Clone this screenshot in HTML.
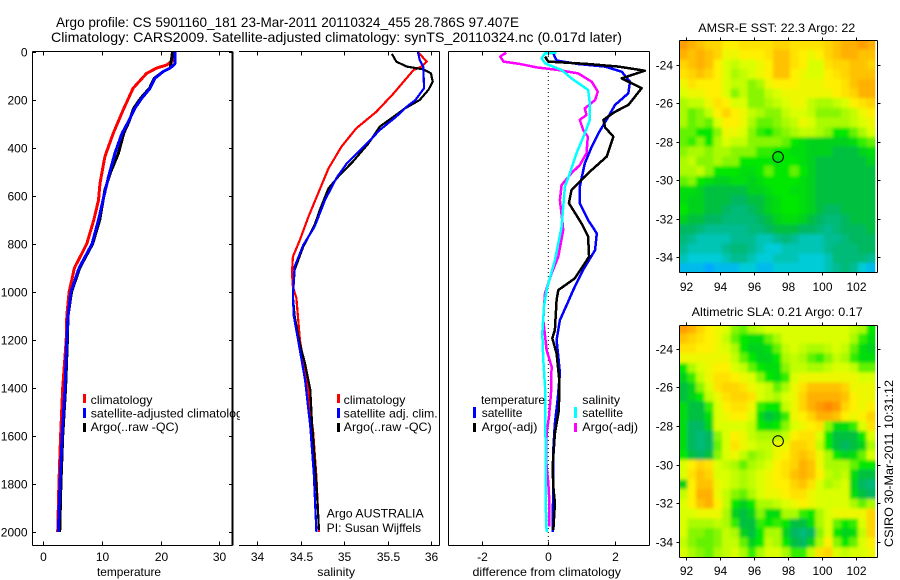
<!DOCTYPE html>
<html>
<head>
<meta charset="utf-8">
<title>Argo profile</title>
<style>
html,body{margin:0;padding:0;background:#fff;}
svg{display:block;}
text{font-family:"Liberation Sans",sans-serif;font-size:12px;fill:#000;}
</style>
</head>
<body>
<svg id="fig" xmlns="http://www.w3.org/2000/svg" width="900" height="580" viewBox="0 0 900 580">
<defs>
<clipPath id="legendClip"><rect x="0" y="380" width="240" height="60"/></clipPath>
<clipPath id="sstClip"><rect x="679.5" y="40.5" width="195.8" height="232"/></clipPath>
<clipPath id="slaClip"><rect x="679.5" y="325.5" width="195.8" height="232"/></clipPath>
<filter id="mapSoft" x="-5%" y="-5%" width="110%" height="110%"><feGaussianBlur stdDeviation="1.7"/></filter>
</defs>
<text x="56" y="27" style="font-size:14px" textLength="463" lengthAdjust="spacingAndGlyphs">Argo profile: CS 5901160_181 23-Mar-2011 20110324_455 28.786S 97.407E</text>
<text x="51" y="42" style="font-size:14px" textLength="571" lengthAdjust="spacingAndGlyphs">Climatology: CARS2009. Satellite-adjusted climatology: synTS_20110324.nc (0.017d later)</text>

<g id="marks"></g>
<g id="frames"></g>

<text x="97" y="576" textLength="64" lengthAdjust="spacingAndGlyphs">temperature</text>
<text x="317.3" y="576" textLength="37.7" lengthAdjust="spacingAndGlyphs">salinity</text>
<text x="472.5" y="576" textLength="148.5" lengthAdjust="spacingAndGlyphs">difference from climatology</text>

<g>
<rect x="83" y="394" width="3" height="9" fill="#f00"/>
<text x="90.7" y="404" textLength="61.7" lengthAdjust="spacingAndGlyphs">climatology</text>
<rect x="83" y="408" width="3" height="10" fill="#00f"/>
<text x="90.7" y="417.5" style="font-size:12.4px" clip-path="url(#legendClip)">satellite-adjusted climatology</text>
<rect x="83" y="423" width="3" height="9" fill="#000"/>
<text x="90.7" y="431" textLength="88" lengthAdjust="spacingAndGlyphs">Argo(..raw -QC)</text>
</g>

<g>
<rect x="337" y="394" width="3" height="9" fill="#f00"/>
<text x="343.7" y="404" textLength="61.7" lengthAdjust="spacingAndGlyphs">climatology</text>
<rect x="337" y="408" width="3" height="10" fill="#00f"/>
<text x="343.7" y="417.5" textLength="94" lengthAdjust="spacingAndGlyphs">satellite adj. clim.</text>
<rect x="337" y="423" width="3" height="9" fill="#000"/>
<text x="343.7" y="431" textLength="88" lengthAdjust="spacingAndGlyphs">Argo(..raw -QC)</text>
</g>
<text x="326.7" y="517.5" textLength="97" lengthAdjust="spacingAndGlyphs">Argo AUSTRALIA</text>
<text x="326.7" y="532" textLength="94.3" lengthAdjust="spacingAndGlyphs">PI: Susan Wijffels</text>

<g>
<text x="481" y="404" textLength="64" lengthAdjust="spacingAndGlyphs">temperature</text>
<rect x="473" y="407" width="3" height="11" fill="#00f"/>
<text x="481.7" y="417" textLength="40.7" lengthAdjust="spacingAndGlyphs">satellite</text>
<rect x="473" y="423" width="3" height="9" fill="#000"/>
<text x="481.7" y="431" textLength="55.7" lengthAdjust="spacingAndGlyphs">Argo(-adj)</text>
<text x="582.3" y="404" textLength="37.7" lengthAdjust="spacingAndGlyphs">salinity</text>
<rect x="574" y="407" width="3" height="11" fill="#0ff"/>
<text x="582.3" y="417" textLength="40.7" lengthAdjust="spacingAndGlyphs">satellite</text>
<rect x="574" y="423" width="3" height="9" fill="#f0f"/>
<text x="582.3" y="431" textLength="55.7" lengthAdjust="spacingAndGlyphs">Argo(-adj)</text>
</g>

<text x="698.3" y="32" textLength="157" lengthAdjust="spacingAndGlyphs">AMSR-E SST: 22.3 Argo: 22</text>
<text x="691.7" y="316" textLength="171" lengthAdjust="spacingAndGlyphs">Altimetric SLA: 0.21 Argo: 0.17</text>
<text x="0" y="0" transform="translate(893,547) rotate(-90)" textLength="167" lengthAdjust="spacingAndGlyphs">CSIRO 30-Mar-2011 10:31:12</text>
</svg>

<script>
// ---------- axis tick labels ----------
const depthTicks = [0,200,400,600,800,1000,1200,1400,1600,1800,2000];
const tempTicks = [0,10,20,30];
const salTicks = [34,34.5,35,35.5,36];
const salTickLabels = ['34','34.5','35','35.5','36'];
const diffTicks = [-2,0,2];
const lonTicks = [92,94,96,98,100,102];
const latTicks = [-24,-26,-28,-30,-32,-34];

// ---------- temperature profiles ----------
const tempClimDepth = [0,33,54,67,89,151,242,339,436,547,617,700,800,900,1000,1100,1200,1400,1600,1800,2000];
const tempClim = [22.3,22.2,21,19.3,17.6,15.3,13.6,11.9,10.5,9.66,9.4,8.6,7.4,5.3,4.4,4.0,3.9,3.3,2.95,2.65,2.45];
const tempSatDepth = [0,50,67,82,110,151,192,234,290,339,422,520,603,700,800,900,1000,1100,1200,1400,1600,1800,2000];
const tempSat = [22.4,22.4,21.6,20.4,19,18.2,16.8,15.6,14.5,13.4,12.2,11.1,10.3,9.4,8.3,6.1,4.7,4.2,4,3.7,3.2,2.85,2.55];
const tempArgoDepth = [0,20,67,82,110,151,192,234,290,339,422,505,575,700,800,900,1000,1100,1200,1400,1600,1800,2000];
const tempArgo = [22,21.9,21.6,20.4,18.9,18.1,16.6,15.4,14.6,13.7,12.8,11.4,10.5,9.6,8.4,6.2,4.8,4.2,4.1,3.8,3.3,3,2.8];

// ---------- salinity profiles ----------
const salClimDepth = [0,40,61,75,117,172,249,318,394,485,589,686,783,853,922,978,1026,1200,1394,1589,1770,2000];
const salClim = [35.85,35.95,35.89,35.8,35.7,35.57,35.37,35.14,34.97,34.82,34.7,34.59,34.49,34.41,34.4,34.41,34.45,34.49,34.58,34.645,34.68,34.71];
const salSatDepth = [0,33,61,151,200,228,269,325,374,464,526,617,728,804,894,1019,1100,1200,1367,1561,1755,2000];
const salSat = [35.85,35.87,35.91,35.92,35.82,35.72,35.6,35.41,35.28,35.03,34.91,34.78,34.66,34.53,34.43,34.41,34.42,34.47,34.55,34.61,34.65,34.68];
const salArgoDepth = [8,40,61,72,89,124,158,200,235,269,311,381,457,512,568,658,721,811,908,1019,1100,1200,1300,1408,1547,1796,1992];
const salArgo = [35.55,35.6,35.72,35.91,36,36.02,35.97,35.87,35.7,35.57,35.41,35.28,35.1,34.95,34.82,34.72,34.66,34.53,34.43,34.41,34.43,34.48,34.55,34.61,34.63,34.68,34.71];

// ---------- difference profiles ----------
const diffTempSatDepth = [6,36,50,61,82,124,172,221,269,339,394,464,561,630,700,756,825,908,992,1040,1117,1200,1269,1339,1450,1547,1658,1796,1999];
const diffTempSat = [.15,.25,.9,1.71,2.21,2.46,2.41,2.01,1.81,1.51,1.31,1.1,.95,.95,1.2,1.46,1.41,1.05,.75,.6,.35,.25,.3,.35,.28,.2,.15,.15,.13];
const diffTempArgoDepth = [19,40,50,61,78,110,151,186,221,249,283,314,353,436,505,575,630,714,769,853,943,992,1033,1158,1193,1256,1367,1492,1589,1728,1811,1881,1992];
const diffTempArgo = [-.1,0,1.2,2.11,2.91,2.21,2.81,2.61,2.41,2.01,1.66,1.71,1.96,1.76,1.2,.7,.62,1,1.2,1.23,.8,.3,.25,.2,.12,.25,.33,.32,.2,.13,.15,.2,.15];
const diffSalArgoDepth = [3,19,40,50,64,75,89,124,165,200,235,262,283,325,353,422,471,505,554,617,700,742,853,922,1006,1061,1117,1242,1311,1421,1519,1589,1700,1796,1867,1978];
const diffSalArgo = [-1.27,-1.45,-1.35,-.85,-.35,.3,.9,1.31,1.49,1.41,1.1,1.15,.95,1.05,1.19,1.15,.95,.7,.4,.35,.42,.45,.3,.1,-.1,-.13,-.15,-.05,.1,.08,.02,-.05,-.07,0,.03,.03];
const diffSalSatDepth = [3,6,26,47,75,110,158,214,283,339,422,505,561,728,867,992,1061,1172,1283,1394,1644,1867,1999];
const diffSalSat = [.25,-.1,-.2,-.1,.4,.7,1.2,1.25,1.25,1.1,.85,.65,.5,.4,.2,-.05,-.13,-.18,-.15,-.1,-.08,-.08,-.05];

// ---------- float position ----------
const floatLon = [97.407];
const floatLat = [-28.786];

// ---------- SST map levels (colour-scale units, north to south) ----------
const sstLevels = [
[11.5,11,10.5,10,10, 9,9,9.5,9.5,9.5, 9.5,10,10,9.5,9.5, 9.5,9.5,10,10.5,11, 11,11.5,11],
[11,10.5,11,10.5,10, 8.5,8.5,9,9,9, 9.5,10.5,10.5,9.5,9, 8.5,9,10,10.5,11, 11,10.5,10.5],
[10,10.5,11,10.5,9, 8,7.5,8,8,8.5, 9,10.5,10.5,9.5,9, 8,8,9.5,10,10, 10.5,10.5,10],
[9.5,10,10.5,10,9, 8,7,7.5,8,8.5, 9,10.5,10.5,9,8.5, 8,8,9,9.5,10, 10.5,10.5,10.5],
[8.5,9.5,9,9,9, 8,7.5,7.5,6.5,7, 8.5,9,9,9,8.5, 8.5,8.5,9,9,9.5, 10.5,11,11],
[8,8.5,8.5,9,9, 8,6.5,7.5,6.5,6.5, 7.5,8,8.5,8.5,8.5, 8.5,8.5,8.5,9,9.5, 10,11,11],
[7,7.5,7.5,8.5,9.5, 9,8,8,6.5,6.5, 7,7.5,8,8.5,8.5, 7.5,7,7,7.5,8, 9,9.5,10],
[7,6,6.5,7.5,9, 10,9,8.5,7.5,7, 6.5,6.5,7.5,8,8, 7.5,6.5,6.5,6.5,7, 7.5,8.5,9],
[7,6,6.5,6,8, 9,9,8.5,7,6, 6,6.5,7,7.5,8.5, 8,7,7,7,7, 7.5,8,8.5],
[6,6,5,5,6.5, 8.5,8.5,8,6.5,5.5, 5,6,6.5,7,7.5, 7.5,7,6.5,5,5, 6,7,8],
[6,5.5,6.5,5,7, 8,7.5,7.5,6.5,6.5, 6.5,6.5,6,5,4.5, 4,4,4,4,4, 4.5,5.5,6],
[6.5,7,7,6.5,7, 7,6.5,6.5,6.5,5.5, 5.5,5,5,4.5,4.5, 4,4,4,3.5,3.5, 3.5,4,4.5],
[7,7.5,6.5,6.5,7, 6.5,6.5,5,5,5, 5,4.5,5,5,4.5, 4,3.5,3.5,3.5,3.5, 3.5,3.5,4],
[7,7,7.5,6.5,5, 5,5,4.5,4.5,5, 6,5,5,6,5, 4,3.5,3.5,3.5,3.5, 3.5,3.5,3.5],
[6,6.5,5,4.5,4, 4,4.5,4.5,4,4.5, 5,5,5,5,4.5, 4,3.5,3.5,3.5,3.5, 3.5,3.5,3.5],
[4.5,4.5,4,3.5,3.5, 3.5,3.5,3.5,4,4, 4.5,5,5,4.5,4.5, 4,3.5,3.5,3.5,3.5, 3.5,3.5,3.5],
[4.5,4,4,3.5,3.5, 3.5,3,3,3.5,3.5, 4,4.5,5,5,4.5, 4,3.5,3.5,3.5,3.5, 3.5,3.5,3.5],
[5,4,4,3.5,3.5, 3,2.5,2.5,3,3.5, 4,4.5,5,5,4.5, 4,3.5,3,3,3.5, 3.5,3.5,3.5],
[4,3.5,3.5,3,3, 2.5,2.5,2.5,2.5,3, 3.5,4,4.5,4.5,4, 3.5,3,2.5,2.5,3, 3.5,3.5,3.5],
[3,3,2.5,2,2, 2,2,2,2.5,2.5, 3,3.5,3.5,3.5,3, 3,2.5,2,2.5,3, 3,3,3.5],
[2.5,2,1.5,1.5,1.5, 1.5,2,2,2,1.5, 1.5,2,2.5,2,1.5, 1.5,1.5,2,2,2.5, 3,3,3],
[2,1.5,1.5,1.5,1.5, 2,2.5,2.5,2,1.5, 1,1,1.5,1.5,1.5, 1.5,1.5,2,2.5,2.5, 2.5,3,3],
[1.5,1,1,1,1, 1.5,2,2,1.5,1, 1,1.5,1.5,1.5,1, 1,1,1.5,2.5,2.5, 2.5,2.5,2],
[.5,.5,.5,0,.5, .5,.5,1,1,.5, .5,1,1,1,1, 1,1,1.5,2,2.5, 2,1,.5]
];

// ---------- SLA map levels (colour-scale units, north to south) ----------
const slaLevels = [
[11.5,11,10,9,8.5, 8,6.5,6,7,7.5, 8,8,8,8,8, 8,8,8,8,8, 7.5,7,5],
[10.5,10,9.5,9,8.5, 7.5,6,5,4.5,4.5, 6,7,8,8,8, 8,8,8,8,8, 7,5.5,4.5],
[9.5,9.5,9,9,8.5, 8,7,5,4,4, 4.5,6,7.5,8,7.5, 7,7,7.5,8,7.5, 6,4.5,4],
[8.5,8.5,8.5,8.5,8.5, 8.5,7.5,6,5,4, 4,5,7,7.5,7, 6,5.5,6.5,7.5,7, 5.5,4.5,4.5],
[5,7,8,8.5,9, 9,8,7.5,6,5, 4.5,4.5,6.5,7.5,7.5, 7,7,7.5,8,8, 7.5,6,6],
[4,5.5,7.5,8.5,9.5, 9.5,9,8.5,8,6.5, 5,4.5,5.5,8,8.5, 8.5,8.5,8.5,8.5,8.5, 8.5,8,8],
[3.5,4,6.5,8,9.5, 10,10,9.5,8.5,8, 7.5,6,7,8.5,9.5, 10.5,10.5,10.5,10.5,10, 8.5,8.5,8.5],
[3.5,4,5,7.5,8.5, 9.5,10,10,9.5,8, 7.5,7,8,8.5,10, 11,11,11,11,10.5, 9,8.5,8.5],
[4.5,3.5,3.5,5.5,8, 9,9.5,9.5,8.5,5.5, 5,5,7.5,8.5,10, 11,11.5,12,11.5,10, 9,8.5,9],
[4.5,3.5,3.5,4.5,8, 8.5,9,9,8,4.5, 3.5,4,5.5,8.5,9, 10,11,11,10.5,9, 8.5,9,10],
[4.5,3,3,4,8, 8,8,8,7.5,5, 4.5,5,6.5,8,8.5, 9,9.5,6.5,4.5,4.5, 5.5,8,9.5],
[4.5,3,2.5,3,6.5, 8,9,8.5,7.5,7, 7,7,7.5,9,9.5, 9.5,8,5,3.5,3.5, 3.5,5,8],
[4.5,3,2.5,3,6, 8,9.5,8.5,8,7.5, 7.5,8.5,8.5,10,10, 9.5,7.5,5,3.5,3, 3.5,4,7],
[5,3.5,3,3.5,6.5, 8,8.5,7.5,6.5,7, 7.5,8.5,9,10,10.5, 10,8.5,7,5,4, 4.5,6,8],
[8,9,10,9.5,8, 7.5,7,6,7,7.5, 8,9,9.5,10,11, 10.5,8.5,7,7,7, 6,5,5],
[8,9.5,10.5,10,8, 8,7.5,7,7.5,8, 8.5,9,9.5,10.5,11, 10.5,9,7.5,7,7.5, 4.5,3.5,3.5],
[4,9,10.5,10.5,8.5, 8,7.5,7,7.5,8, 8.5,9,9,10,10.5, 9.5,8,7,7.5,8, 4,3,2.5],
[7.5,9,11,11,8.5, 7.5,6.5,6,7,8, 8.5,8.5,9,9.5,9.5, 8.5,8,8,8,8, 4.5,3.5,3],
[8,9,10.5,11,9, 7.5,5,4,5,7, 7,7.5,8,8.5,9, 8.5,8,8,8,8, 7,6,7],
[8,8,8.5,8.5,8.5, 7,4,3.5,4,6.5, 4.5,4.5,7,7,5.5, 5,7,8,8.5,8.5, 8.5,8.5,10],
[8,7,7,7,7.5, 7,5.5,3.5,3.5,5.5, 5,5.5,5,3.5,3.5, 4.5,7,8,6,5, 5.5,8,10],
[8,6.5,6.5,6,6.5, 7.5,7,4,3.5,5, 7,7,4,3,2.5, 3,6.5,8,5,4, 4.5,7.5,10],
[7.5,6.5,6,6,6.5, 7.5,7.5,6,4,5, 7.5,7,5,3.5,3, 4,7,9,6.5,5, 6,8,9],
[8,7,6.5,6,7, 7.5,8,7,5.5,7, 8,8,7,5.5,5.5, 7.5,9.5,10,8,7.5, 8,8,8.5]
];

// ---------- axis functions ----------
const SVGNS = 'http://www.w3.org/2000/svg';
const marks = document.getElementById('marks');
const frames = document.getElementById('frames');
const yDepth = d => 52 + d * 0.24;
const xTemp = t => 43.3 + t * 5.87;
const xSal = s => 257.3 + (s - 34) * 86.85;
const xDiff = v => 548.3 + v * 33.2;
const xLon = lon => 686 + (lon - 92) * 17.03;
const ySst = lat => 64.7 + (-24 - lat) * 19.27;
const ySla = lat => 348.7 + (-24 - lat) * 19.3;

function mk(parent, tag, attrs, text) {
  const el = document.createElementNS(SVGNS, tag);
  for (const k in attrs) el.setAttribute(k, attrs[k]);
  if (text !== undefined) el.textContent = text;
  parent.appendChild(el);
  return el;
}

function profile(depths, values, xFn, color, width, name) {
  const pts = depths.map((d, i) => xFn(values[i]).toFixed(1) + ',' + yDepth(d).toFixed(1)).join(' ');
  const el = mk(marks, 'polyline', {points: pts, fill: 'none', stroke: color, 'stroke-width': width,
    'stroke-linejoin': 'round', 'shape-rendering': 'crispEdges'});
  
  
}

function hLine(x1, x2, y) {
  const el = mk(frames, 'line', {x1: x1, x2: x2, y1: y, y2: y, stroke: '#000', 'stroke-width': 1, 'shape-rendering': 'crispEdges'});
  
  
}
function vLine(x, y1, y2, w) {
  const el = mk(frames, 'line', {x1: x, x2: x, y1: y1, y2: y2, stroke: '#000', 'stroke-width': w || 1, 'shape-rendering': 'crispEdges'});
  
  
}
function tickLabel(x, y, s, anchor) {
  const el = mk(frames, 'text', {x: x, y: y, 'text-anchor': anchor}, s);
  
  
}

// ---------- profile panels ----------
profile(tempClimDepth, tempClim, xTemp, '#f00', 3, 'temperature-climatology-line');
profile(tempArgoDepth, tempArgo, xTemp, '#000', 3, 'temperature-argo-line');
profile(tempSatDepth, tempSat, xTemp, '#00f', 3, 'temperature-satellite-line');

profile(salClimDepth, salClim, xSal, '#f00', 2.2, 'salinity-climatology-line');
profile(salArgoDepth, salArgo, xSal, '#000', 2.2, 'salinity-argo-line');
profile(salSatDepth, salSat, xSal, '#00f', 2.2, 'salinity-satellite-line');

const zeroLine = mk(marks, 'line', {x1: xDiff(0), x2: xDiff(0), y1: 52, y2: 545, stroke: '#000', 'stroke-width': 1, 'stroke-dasharray': '1 3'});


profile(diffTempSatDepth, diffTempSat, xDiff, '#00f', 2.5, 'difference-temperature-satellite-line');
profile(diffTempArgoDepth, diffTempArgo, xDiff, '#000', 2.5, 'difference-temperature-argo-line');
profile(diffSalArgoDepth, diffSalArgo, xDiff, '#f0f', 2.5, 'difference-salinity-argo-line');
profile(diffSalSatDepth, diffSalSat, xDiff, '#0ff', 2.5, 'difference-salinity-satellite-line');

// ---------- profile panel frames ----------
const PT = 51.5, PB = 545.5;
[[32.5,232.5,2],[239,439.5,1],[448.5,649.5,1]].forEach((p, i) => {
  hLine(p[0], p[1], PT);
  hLine(p[0], p[1], PB);
  vLine(p[1], PT, PB, p[2]);
  if (i !== 1) vLine(p[0], PT, PB);
});
depthTicks.forEach(d => {
  const y = Math.round(yDepth(d)) + 0.5;
  hLine(32.5, 36, y);
  hLine(229, 232.5, y);
  tickLabel(27.5, y + 4, String(d), 'end');
});
tempTicks.forEach(t => {
  const x = Math.round(xTemp(t)) + 0.5;
  vLine(x, PT, PT + 4);
  vLine(x, PB - 4, PB);
  tickLabel(x, 561, String(t), 'middle');
});
salTicks.forEach((s, i) => {
  const x = Math.round(xSal(s)) + 0.5;
  vLine(x, PT, PT + 4);
  vLine(x, PB - 4, PB);
  tickLabel(x, 561, salTickLabels[i], 'middle');
});
diffTicks.forEach(v => {
  const x = Math.round(xDiff(v)) + 0.5;
  vLine(x, PT, PT + 4);
  vLine(x, PB - 4, PB);
  tickLabel(x, 561, String(v), 'middle');
});

// ---------- colour scale ----------
const scaleLevels = [0,1,2,3,3.5,4,5,6,7,8,9,10,11,12];
const scaleColors = [[0,168,255],[0,204,216],[0,188,144],[0,184,96],[0,192,64],[0,210,28],[0,232,0],[100,242,0],[170,250,0],[218,255,0],[255,240,0],[255,212,0],[255,176,0],[255,136,0]];
function levelColor(v) {
  let i = 0;
  while (i < scaleLevels.length - 2 && v > scaleLevels[i + 1]) i++;
  const f = Math.max(0, Math.min(1, (v - scaleLevels[i]) / (scaleLevels[i + 1] - scaleLevels[i])));
  const a = scaleColors[i], b = scaleColors[i + 1];
  return 'rgb(' + a.map((c, k) => Math.round(c + (b[k] - c) * f)).join(',') + ')';
}

// ---------- maps ----------
const LON0 = 91.6, DLON = 0.5, LAT0 = -22.72, DLAT = 0.5033;
const BLEED = 10;
function drawMap(levels, yLat, top, bottom, labelY, clipId, name) {
  const clipG = mk(marks, 'g', {'clip-path': 'url(#' + clipId + ')'});
  
  
  const softG = mk(clipG, 'g', {filter: 'url(#mapSoft)'});
  const nR = levels.length, nC = levels[0].length;
  levels.forEach((row, r) => {
    row.forEach((v, c) => {
      let x1 = xLon(LON0 + c * DLON), x2 = xLon(LON0 + (c + 1) * DLON);
      let y1 = yLat(LAT0 - r * DLAT), y2 = yLat(LAT0 - (r + 1) * DLAT);
      if (c === 0) x1 -= BLEED;
      if (c === nC - 1) x2 += BLEED;
      if (r === 0) y1 -= BLEED;
      if (r === nR - 1) y2 += BLEED;
      const cell = mk(softG, 'rect', {x: x1.toFixed(2), y: y1.toFixed(2), width: (x2 - x1 + 0.3).toFixed(2), height: (y2 - y1 + 0.3).toFixed(2),
        fill: levelColor(v), 'shape-rendering': 'crispEdges'});
      
      
    });
  });
  const L = 679.5, R = 877.5;
  hLine(L, R, top);
  hLine(L, R, bottom);
  vLine(L, top, bottom);
  vLine(R, top, bottom);
  lonTicks.forEach(lon => {
    const x = Math.round(xLon(lon)) + 0.5;
    vLine(x, top - 3, top);
    vLine(x, bottom, bottom + 3);
    tickLabel(x, labelY, String(lon), 'middle');
  });
  latTicks.forEach(lat => {
    const y = Math.round(yLat(lat)) + 0.5;
    hLine(L - 3, L, y);
    hLine(R, R + 3, y);
    tickLabel(673, y + 4, String(lat), 'end');
  });
  const dot = mk(frames, 'circle', {cx: xLon(floatLon[0]), cy: yLat(floatLat[0]), r: 5.3, fill: 'none', stroke: '#000', 'stroke-width': 1});
  
  
}
drawMap(sstLevels, ySst, 40.5, 272.5, 291, 'sstClip', 'sst-map');
drawMap(slaLevels, ySla, 325.5, 557.5, 575, 'slaClip', 'sla-map');
</script>
</body>
</html>
